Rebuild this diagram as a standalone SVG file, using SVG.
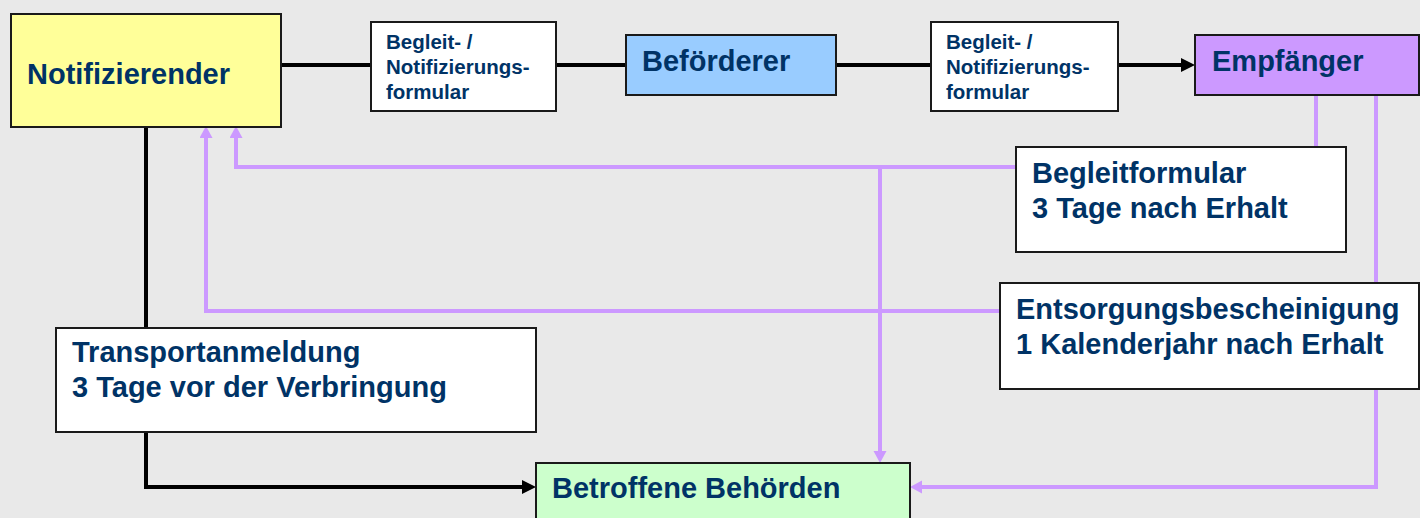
<svg xmlns="http://www.w3.org/2000/svg" width="1420" height="518" viewBox="0 0 1420 518">
<style>
.box{stroke:#1a1a1a;stroke-width:2}
.t{font-family:"Liberation Sans",Arial,sans-serif;font-weight:bold;fill:#003366}
.big{font-size:29px}
.small{font-size:20.5px}
.blk{fill:none;stroke:#000;stroke-width:4}
.pur{fill:none;stroke:#cc99ff;stroke-width:4}
</style>
<defs>
<marker id="ab" markerUnits="userSpaceOnUse" markerWidth="16" markerHeight="16" refX="0" refY="7" orient="auto"><path d="M0,0 L14,7 L0,14 z" fill="#000"/></marker>
<marker id="ap" markerUnits="userSpaceOnUse" markerWidth="16" markerHeight="16" refX="0" refY="6.5" orient="auto"><path d="M0,0 L12,6.5 L0,13 z" fill="#cc99ff"/></marker>
</defs>
<rect width="1420" height="518" fill="#e9e9e9"/>
<g id="connectors">
<path class="blk" d="M281,65 H371"/>
<path class="blk" d="M556,65 H626"/>
<path class="blk" d="M836,65 H931"/>
<path class="blk" d="M1118,65 H1181" marker-end="url(#ab)"/>
<path class="blk" d="M146,127 V328"/>
<path class="blk" d="M146,432 V487 H522" marker-end="url(#ab)"/>
<path class="pur" d="M1316,95 V147"/>
<path class="pur" d="M1016,167 H236 V138" marker-end="url(#ap)"/>
<path class="pur" d="M880,167 V451" marker-end="url(#ap)"/>
<path class="pur" d="M1000,311 H206 V138" marker-end="url(#ap)"/>
<path class="pur" d="M1376,95 V487 H922" marker-end="url(#ap)"/>
</g>
<g id="notifizierender">
<rect class="box" x="11" y="14" width="270" height="113" fill="#ffff99"/>
<text class="t big" x="27" y="84">Notifizierender</text>
</g>
<g id="formular1">
<rect class="box" x="371" y="22" width="185" height="89" fill="#ffffff"/>
<text class="t small" x="386" y="49">Begleit- /</text>
<text class="t small" x="386" y="74">Notifizierungs-</text>
<text class="t small" x="386" y="99">formular</text>
</g>
<g id="befoerderer">
<rect class="box" x="626" y="35" width="210" height="60" fill="#99ccff"/>
<text class="t big" x="642" y="71">Beförderer</text>
</g>
<g id="formular2">
<rect class="box" x="931" y="22" width="187" height="89" fill="#ffffff"/>
<text class="t small" x="946" y="49">Begleit- /</text>
<text class="t small" x="946" y="74">Notifizierungs-</text>
<text class="t small" x="946" y="99">formular</text>
</g>
<g id="empfaenger">
<rect class="box" x="1195" y="35" width="224" height="60" fill="#cc99ff"/>
<text class="t big" x="1212" y="71">Empfänger</text>
</g>
<g id="begleitformular">
<rect class="box" x="1016" y="147" width="330" height="105" fill="#ffffff"/>
<text class="t big" x="1032" y="183">Begleitformular</text>
<text class="t big" x="1032" y="218">3 Tage nach Erhalt</text>
</g>
<g id="entsorgung">
<rect class="box" x="1000" y="283" width="419" height="106" fill="#ffffff"/>
<text class="t big" x="1016" y="319">Entsorgungsbescheinigung</text>
<text class="t big" x="1016" y="354">1 Kalenderjahr nach Erhalt</text>
</g>
<g id="transportanmeldung">
<rect class="box" x="56" y="328" width="480" height="104" fill="#ffffff"/>
<text class="t big" x="72" y="362">Transportanmeldung</text>
<text class="t big" x="72" y="397">3 Tage vor der Verbringung</text>
</g>
<g id="behoerden">
<rect class="box" x="536" y="463" width="374" height="60" fill="#ccffcc"/>
<text class="t big" x="552" y="498">Betroffene Behörden</text>
</g>
</svg>
